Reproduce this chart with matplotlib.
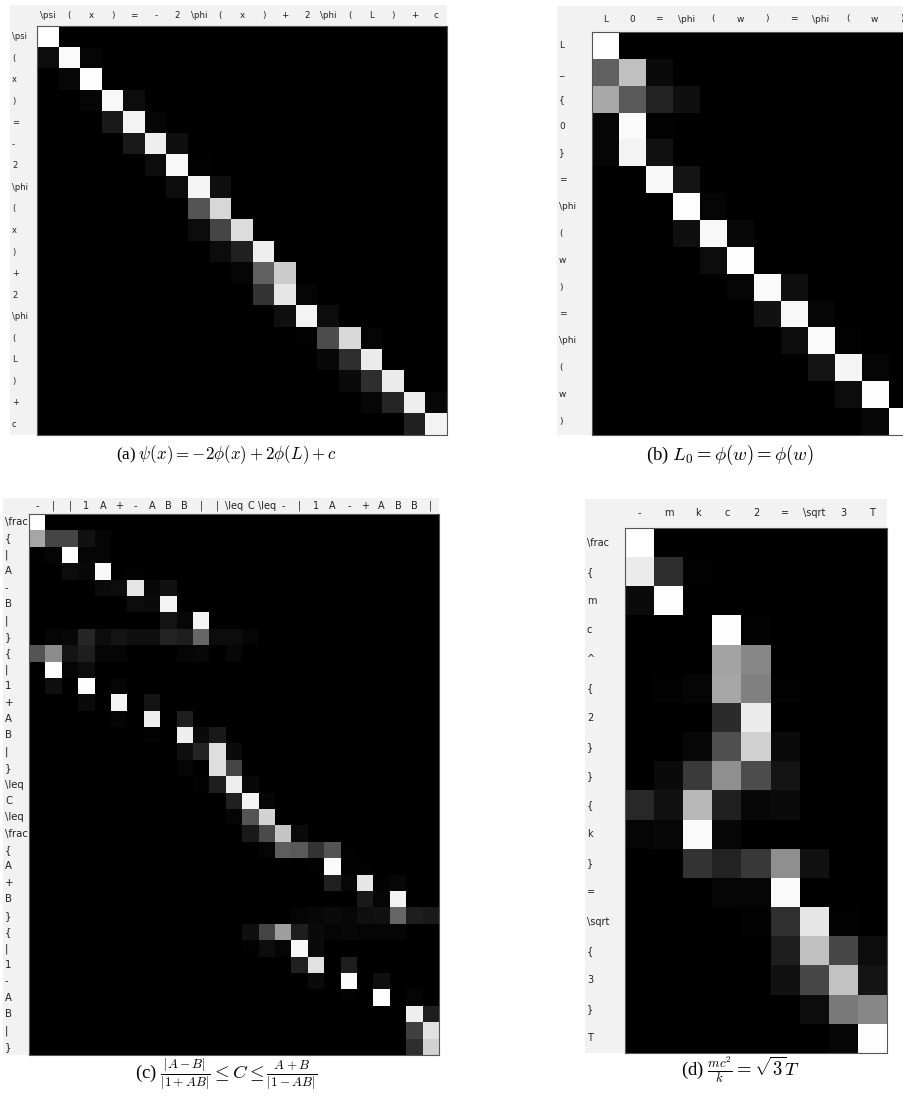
import matplotlib
matplotlib.use("Agg")
import matplotlib.pyplot as plt
from matplotlib.patches import Rectangle
import numpy as np

plt.rcParams["mathtext.fontset"] = "cm"
plt.rcParams["font.family"] = ["Liberation Serif", "DejaVu Serif"]

W, H = 904, 1097

# token labels for each panel
rows_a = [r"\psi", "(", "x", ")", "=", "-", "2", r"\phi", "(", "x", ")", "+",
          "2", r"\phi", "(", "L", ")", "+", "c"]
cols_a = rows_a

rows_b = ["L", "_", "{", "0", "}", "=", r"\phi", "(", "w", ")", "=", r"\phi", "(", "w", ")"]
cols_b = ["L", "0", "=", r"\phi", "(", "w", ")", "=", r"\phi", "(", "w", ")"]

rows_c = [r"\frac", "{", "|", "A", "-", "B", "|", "}", "{", "|", "1", "+", "A", "B", "|", "}",
          r"\leq", "C", r"\leq", r"\frac", "{", "A", "+", "B", "}", "{", "|", "1", "-", "A",
          "B", "|", "}"]
cols_c = ["-", "|", "|", "1", "A", "+", "-", "A", "B", "B", "|", "|", r"\leq", "C", r"\leq",
          "-", "|", "1", "A", "-", "+", "A", "B", "B", "|"]

rows_d = [r"\frac", "{", "m", "c", "^", "{", "2", "}", "}", "{", "k", "}", "=", r"\sqrt",
          "{", "3", "}", "T"]
cols_d = ["-", "m", "k", "c", "2", "=", r"\sqrt", "3", "T"]

# attention weights, per row: (column, value); all other cells are 0
attn_a = [
    [(0, 1.0)],
    [(0, .05), (1, .98), (2, .02)],
    [(1, .03), (2, .99)],
    [(2, .02), (3, .97), (4, .05)],
    [(3, .10), (4, .95), (5, .02)],
    [(4, .10), (5, .93), (6, .06)],
    [(5, .05), (6, .97), (7, .01)],
    [(6, .05), (7, .96), (8, .06)],
    [(7, .33), (8, .84)],
    [(7, .05), (8, .27), (9, .86)],
    [(8, .05), (9, .13), (10, .93)],
    [(9, .02), (10, .38), (11, .80)],
    [(10, .20), (11, .90), (12, .02)],
    [(11, .06), (12, .95), (13, .05)],
    [(12, .01), (13, .30), (14, .85), (15, .02)],
    [(13, .03), (14, .18), (15, .92)],
    [(14, .04), (15, .18), (16, .92)],
    [(15, .03), (16, .15), (17, .93), (18, .03)],
    [(17, .13), (18, .95)],
]

attn_b = [
    [(0, 1.0)],
    [(0, .38), (1, .75), (2, .04)],
    [(0, .66), (1, .35), (2, .14), (3, .06)],
    [(0, .02), (1, .98), (2, .01)],
    [(0, .02), (1, .95), (2, .07)],
    [(2, .97), (3, .08)],
    [(3, .99), (4, .02)],
    [(3, .06), (4, .97), (5, .03)],
    [(4, .05), (5, .99)],
    [(5, .02), (6, .98), (7, .06)],
    [(6, .07), (7, .97), (8, .02)],
    [(7, .05), (8, .98), (9, .01)],
    [(8, .08), (9, .96), (10, .02)],
    [(9, .05), (10, .99)],
    [(10, .03), (11, 1.0)],
]

attn_c = [
    [(0, 1.0)],
    [(0, .65), (1, .27), (2, .27), (3, .07), (4, .02)],
    [(0, .01), (1, .02), (2, .99), (3, .02), (4, .02)],
    [(2, .05), (3, .03), (4, .97), (6, .01)],
    [(4, .04), (5, .05), (6, .90), (7, .03), (8, .07)],
    [(6, .05), (7, .04), (8, .95)],
    [(8, .08), (9, .03), (10, .95)],
    [(1, .02), (2, .03), (3, .15), (4, .05), (5, .08), (6, .06), (7, .06), (8, .14),
     (9, .12), (10, .40), (11, .05), (12, .05), (13, .02)],
    [(0, .33), (1, .55), (2, .08), (3, .12), (4, .02), (5, .02), (9, .02), (10, .03),
     (12, .03)],
    [(1, .99), (2, .02), (3, .05)],
    [(1, .06), (3, .99), (5, .02)],
    [(3, .04), (5, .95), (7, .08)],
    [(5, .02), (7, .93), (9, .12)],
    [(7, .01), (9, .93), (10, .04), (11, .10)],
    [(9, .06), (10, .14), (11, .87), (12, .04)],
    [(9, .02), (11, .87), (12, .27)],
    [(10, .01), (11, .12), (12, .93), (13, .03)],
    [(12, .13), (13, .95), (14, .02)],
    [(12, .02), (13, .33), (14, .83)],
    [(13, .10), (14, .29), (15, .77), (16, .04)],
    [(14, .02), (15, .37), (16, .35), (17, .20), (18, .33), (19, .01)],
    [(17, .01), (18, .98), (19, .01), (20, .01)],
    [(18, .13), (19, .03), (20, .90), (21, .01), (22, .03)],
    [(20, .10), (21, .02), (22, .95)],
    [(16, .02), (17, .03), (18, .04), (19, .03), (20, .06), (21, .07), (22, .40),
     (23, .12), (24, .10)],
    [(13, .06), (14, .27), (15, .62), (16, .12), (17, .04), (18, .02), (19, .03),
     (20, .02), (21, .02), (22, .02)],
    [(13, .01), (14, .05), (15, .02), (16, .97), (17, .04)],
    [(16, .13), (17, .88), (19, .12)],
    [(17, .04), (19, .98), (21, .06)],
    [(19, .01), (21, .99), (23, .02)],
    [(23, .93), (24, .12)],
    [(23, .25), (24, .88)],
    [(23, .18), (24, .82)],
]

attn_d = [
    [(0, 1.0)],
    [(0, .92), (1, .18), (2, .01)],
    [(0, .04), (1, .99)],
    [(3, .99), (4, .01)],
    [(3, .64), (4, .53)],
    [(1, .01), (2, .02), (3, .65), (4, .50), (5, .01)],
    [(3, .17), (4, .92)],
    [(2, .03), (3, .31), (4, .82), (5, .04)],
    [(1, .04), (2, .23), (3, .56), (4, .30), (5, .08)],
    [(0, .16), (1, .07), (2, .72), (3, .13), (4, .03), (5, .04)],
    [(0, .02), (1, .03), (2, .98), (3, .03)],
    [(2, .20), (3, .14), (4, .22), (5, .56), (6, .07)],
    [(3, .02), (4, .02), (5, .98)],
    [(4, .01), (5, .19), (6, .90), (7, .01)],
    [(5, .12), (6, .75), (7, .28), (8, .05)],
    [(5, .07), (6, .28), (7, .76), (8, .08)],
    [(6, .05), (7, .48), (8, .53)],
    [(7, .02), (8, .99)],
]

captions = [
    r"(a) $\psi(x) = -2\phi(x) + 2\phi(L) + c$",
    r"(b) $L_0 = \phi(w) = \phi(w)$",
    r"(c) $\frac{|A-B|}{|1+AB|} \leq C \leq \frac{A+B}{|1-AB|}$",
    r"(d) $\frac{mc^2}{k} = \sqrt{3}T$",
]


def to_matrix(rows, ncols):
    m = np.zeros((len(rows), ncols))
    for i, row in enumerate(rows):
        for j, v in row:
            m[i, j] = v
    return m


def px_box(x0, y0, x1, y1):
    return [x0 / W, 1 - y1 / H, (x1 - x0) / W, (y1 - y0) / H]


def panel(fig, grey, heat, rlabels, clabels, attn, rsize, csize):
    gx0, gy0, gx1, gy1 = grey
    hx0, hy0, hx1, hy1 = heat
    fig.patches.append(Rectangle((gx0 / W, 1 - gy1 / H), (gx1 - gx0) / W, (gy1 - gy0) / H,
                                 transform=fig.transFigure, facecolor="#f2f2f2",
                                 edgecolor="none", zorder=-5))
    ax = fig.add_axes(px_box(hx0, hy0, hx1, hy1))
    ax.set_zorder(2)
    m = to_matrix(attn, len(clabels))
    ax.imshow(m, cmap="gray", vmin=0, vmax=1, aspect="auto", interpolation="nearest")
    ax.set_xticks([])
    ax.set_yticks([])
    for s in ax.spines.values():
        s.set_color("#555555")
        s.set_linewidth(0.8)

    nr, nc = m.shape
    ch = (hy1 - hy0) / nr
    cw = (hx1 - hx0) / nc
    for i, lab in enumerate(rlabels):
        y = hy0 + ch * (i + 0.5)
        fig.text((gx0 + 2) / W, 1 - y / H, lab, ha="left", va="center",
                 fontsize=rsize, family="DejaVu Sans", color="#222222", zorder=1)
    ty = (gy0 + hy0) / 2
    for j, lab in enumerate(clabels):
        x = hx0 + cw * (j + 0.5)
        fig.text(x / W, 1 - ty / H, lab, ha="center", va="center",
                 fontsize=csize, family="DejaVu Sans", color="#222222")
    return ax


fig = plt.figure(figsize=(W / 100, H / 100), dpi=100)

panel(fig, (10, 5, 447, 435), (37, 26, 447, 435), rows_a, cols_a, attn_a, 6, 6.3)
panel(fig, (557, 6, 910, 435), (592, 32, 915, 435), rows_b, cols_b, attn_b, 6.5, 6.5)
panel(fig, (3, 498, 439, 1055), (29, 514, 439, 1055), rows_c, cols_c, attn_c, 7.3, 7)
panel(fig, (585, 499, 887, 1053), (625, 528, 887, 1053), rows_d, cols_d, attn_d, 7, 7)

fig.text(226 / W, 1 - 455 / H, captions[0], ha="center", va="center", fontsize=12.2)
fig.text(730 / W, 1 - 455 / H, captions[1], ha="center", va="center", fontsize=13.5)
fig.text(226 / W, 1 - 1074 / H, captions[2], ha="center", va="center", fontsize=13.5)
fig.text(740 / W, 1 - 1070 / H, captions[3], ha="center", va="center", fontsize=13.5)

fig.savefig("out.png", dpi=100)
